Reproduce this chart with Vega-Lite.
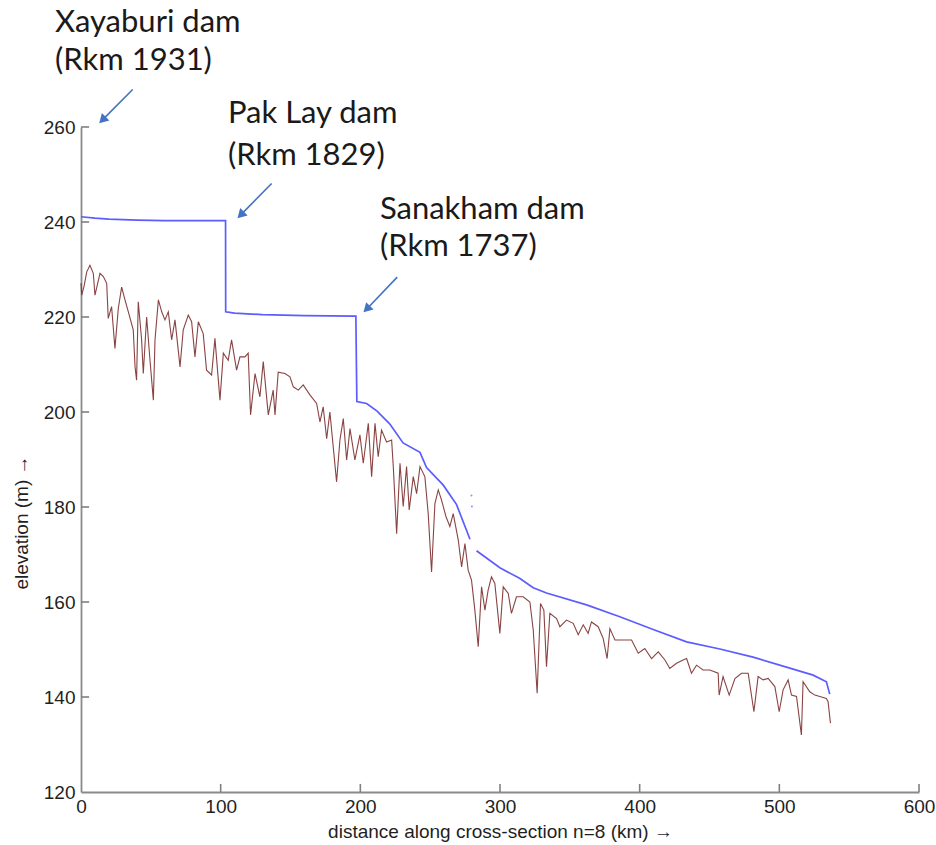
{
  "$schema": "https://vega.github.io/schema/vega-lite/v6.json",
  "width": 838,
  "height": 665,
  "autosize": {"type": "none"},
  "padding": {"left": 81, "top": 127, "right": 17, "bottom": 53},
  "background": "white",
  "config": {
    "view": {"stroke": null},
    "axis": {
      "ticks": false,
      "grid": false,
      "domainColor": "#8a8a8a",
      "domainWidth": 1.8,
      "labelFont": "Liberation Sans",
      "labelFontSize": 19,
      "labelColor": "#1f1f1f",
      "labelFlush": false,
      "titleFont": "Liberation Sans",
      "titleFontSize": 19,
      "titleFontWeight": "normal",
      "titleColor": "#1f1f1f"
    }
  },
  "datasets": {
    "bed": [
      {"km": 0, "elev": 227.1}, {"km": 0.5, "elev": 224.6}, {"km": 2.2, "elev": 226.5}, {"km": 4.1, "elev": 229.5}, {"km": 6.4, "elev": 230.9},
      {"km": 8.8, "elev": 229.2}, {"km": 10, "elev": 224.6}, {"km": 13.6, "elev": 229.2}, {"km": 16, "elev": 228.5},
      {"km": 18.4, "elev": 227.1}, {"km": 19.5, "elev": 219.7}, {"km": 21.9, "elev": 222.2}, {"km": 24.3, "elev": 213.4},
      {"km": 26.7, "elev": 221.8}, {"km": 29.1, "elev": 226.3}, {"km": 31.5, "elev": 223.6}, {"km": 33.9, "elev": 221.1},
      {"km": 37.4, "elev": 217.3}, {"km": 38.7, "elev": 209.5}, {"km": 39.8, "elev": 206.7}, {"km": 41, "elev": 223.2},
      {"km": 43.4, "elev": 215.2}, {"km": 44.6, "elev": 208.1}, {"km": 47, "elev": 220}, {"km": 49.4, "elev": 210.9},
      {"km": 51.8, "elev": 202.5}, {"km": 53, "elev": 215.2}, {"km": 55.4, "elev": 223.6}, {"km": 57.8, "elev": 221.1},
      {"km": 60.1, "elev": 219.4}, {"km": 62.5, "elev": 221.1}, {"km": 64.9, "elev": 215.2}, {"km": 67.3, "elev": 219.4},
      {"km": 70.9, "elev": 209.5}, {"km": 73.2, "elev": 217.3}, {"km": 76.8, "elev": 220.4}, {"km": 79.2, "elev": 219},
      {"km": 81.6, "elev": 211.6}, {"km": 84, "elev": 219}, {"km": 87.5, "elev": 216.5}, {"km": 89.9, "elev": 208.8},
      {"km": 93.5, "elev": 207.8}, {"km": 95.9, "elev": 215.5}, {"km": 99.5, "elev": 202.5}, {"km": 101.9, "elev": 212.4},
      {"km": 105.4, "elev": 210.9}, {"km": 107.8, "elev": 215.2}, {"km": 111.4, "elev": 208.8}, {"km": 113.8, "elev": 211.6},
      {"km": 117.4, "elev": 211.6}, {"km": 119.7, "elev": 212.4}, {"km": 121.4, "elev": 199.4}, {"km": 124.6, "elev": 208.1},
      {"km": 128.1, "elev": 203.2}, {"km": 130.5, "elev": 210.6}, {"km": 134.1, "elev": 199.4}, {"km": 137.6, "elev": 204.6},
      {"km": 138.9, "elev": 199.4}, {"km": 141.2, "elev": 208.4}, {"km": 146, "elev": 208.1}, {"km": 149.6, "elev": 207.4},
      {"km": 152, "elev": 205.3}, {"km": 155.6, "elev": 204.6}, {"km": 159.1, "elev": 205.7}, {"km": 163.9, "elev": 203.6},
      {"km": 168.7, "elev": 201.8}, {"km": 171.1, "elev": 197.9}, {"km": 173.4, "elev": 201.1}, {"km": 175.9, "elev": 194.4},
      {"km": 178.2, "elev": 200}, {"km": 183, "elev": 185.3}, {"km": 185.4, "elev": 194.1}, {"km": 187.8, "elev": 198.6},
      {"km": 190.2, "elev": 189.9}, {"km": 192.6, "elev": 196.5}, {"km": 196.1, "elev": 189.9}, {"km": 199.7, "elev": 195.2},
      {"km": 202.1, "elev": 189.2}, {"km": 205.7, "elev": 197.6}, {"km": 208.1, "elev": 186.4}, {"km": 210.5, "elev": 197.6},
      {"km": 212.8, "elev": 190.6}, {"km": 215.2, "elev": 196.2}, {"km": 218.8, "elev": 193.7}, {"km": 222.4, "elev": 194.1},
      {"km": 223.6, "elev": 188.5}, {"km": 226, "elev": 174.4}, {"km": 228.4, "elev": 189.2}, {"km": 230.7, "elev": 180.1},
      {"km": 233.1, "elev": 188.5}, {"km": 235, "elev": 179.4}, {"km": 237.9, "elev": 186.4}, {"km": 240.3, "elev": 182.8},
      {"km": 242.7, "elev": 188.5}, {"km": 246.2, "elev": 186.4}, {"km": 248.6, "elev": 178.6}, {"km": 251, "elev": 166.3},
      {"km": 253.4, "elev": 180.7}, {"km": 255.8, "elev": 183.6}, {"km": 258.1, "elev": 181.5}, {"km": 261.3, "elev": 178},
      {"km": 264.1, "elev": 175.9}, {"km": 266.5, "elev": 178.6}, {"km": 270.1, "elev": 173.1}, {"km": 272.5, "elev": 167.4},
      {"km": 274.9, "elev": 172.3}, {"km": 277.2, "elev": 166.7}, {"km": 279.6, "elev": 164.6}, {"km": 282, "elev": 158.3},
      {"km": 284.4, "elev": 150.6}, {"km": 286.8, "elev": 163.2}, {"km": 289.2, "elev": 158.3}, {"km": 291.5, "elev": 162.5},
      {"km": 293.9, "elev": 165.3}, {"km": 296.3, "elev": 163.9}, {"km": 299.9, "elev": 153.4}, {"km": 302.3, "elev": 163.2},
      {"km": 305.9, "elev": 161.8}, {"km": 308.2, "elev": 157.6}, {"km": 311.8, "elev": 161.1}, {"km": 316.6, "elev": 161.1},
      {"km": 321.4, "elev": 160}, {"km": 323.8, "elev": 154.1}, {"km": 326.6, "elev": 140.8}, {"km": 329, "elev": 159.7},
      {"km": 331.4, "elev": 158.3}, {"km": 333.3, "elev": 146.4}, {"km": 335.7, "elev": 157.6}, {"km": 340.5, "elev": 156.5},
      {"km": 342.9, "elev": 154.8}, {"km": 347.6, "elev": 156.2}, {"km": 352.4, "elev": 155.5}, {"km": 356, "elev": 153.1},
      {"km": 359.6, "elev": 155.2}, {"km": 363.1, "elev": 153.4}, {"km": 365.5, "elev": 155.8}, {"km": 370.3, "elev": 154.8},
      {"km": 373.9, "elev": 152.3}, {"km": 376.7, "elev": 148.1}, {"km": 378.7, "elev": 154.4}, {"km": 382.3, "elev": 152},
      {"km": 388.2, "elev": 152}, {"km": 394.2, "elev": 152}, {"km": 399, "elev": 149.2}, {"km": 403.7, "elev": 150.2},
      {"km": 408.5, "elev": 148.1}, {"km": 413.3, "elev": 149.5}, {"km": 418.1, "elev": 147.8}, {"km": 421.6, "elev": 146},
      {"km": 426.4, "elev": 147.1}, {"km": 431.1, "elev": 147.8}, {"km": 433.6, "elev": 148.1}, {"km": 437.1, "elev": 145},
      {"km": 440.7, "elev": 146.7}, {"km": 445.4, "elev": 145.7}, {"km": 450.2, "elev": 145.7}, {"km": 456.2, "elev": 145},
      {"km": 456.9, "elev": 140.4}, {"km": 459.7, "elev": 144.3}, {"km": 464.1, "elev": 140.4}, {"km": 468.2, "elev": 143.9},
      {"km": 472.9, "elev": 145}, {"km": 477.7, "elev": 145}, {"km": 481.8, "elev": 136.9}, {"km": 484.8, "elev": 144.3},
      {"km": 488.4, "elev": 143.6}, {"km": 492, "elev": 143.9}, {"km": 496.8, "elev": 142.2}, {"km": 499.9, "elev": 136.9},
      {"km": 502.7, "elev": 141.5}, {"km": 506.3, "elev": 143.6}, {"km": 508.7, "elev": 140.4}, {"km": 512.3, "elev": 140.1},
      {"km": 515.8, "elev": 132}, {"km": 517, "elev": 143.2}, {"km": 521.8, "elev": 141.1}, {"km": 525.4, "elev": 140.4},
      {"km": 529, "elev": 140.1}, {"km": 533.7, "elev": 139.7}, {"km": 534.9, "elev": 139}, {"km": 536.6, "elev": 134.5}
    ],
    "water": [
      {"km": 0, "elev": 241.1, "seg": "a"}, {"km": 10, "elev": 240.8, "seg": "a"}, {"km": 20, "elev": 240.6, "seg": "a"},
      {"km": 40, "elev": 240.4, "seg": "a"}, {"km": 60, "elev": 240.3, "seg": "a"}, {"km": 103.5, "elev": 240.3, "seg": "a"},
      {"km": 103.6, "elev": 221.1, "seg": "a"}, {"km": 110, "elev": 220.8, "seg": "a"}, {"km": 130, "elev": 220.5, "seg": "a"},
      {"km": 160, "elev": 220.3, "seg": "a"}, {"km": 196.8, "elev": 220.2, "seg": "a"}, {"km": 197.5, "elev": 202.2, "seg": "a"},
      {"km": 204.5, "elev": 201.8, "seg": "a"}, {"km": 212, "elev": 200.2, "seg": "a"}, {"km": 221, "elev": 197.5, "seg": "a"},
      {"km": 230.6, "elev": 193.5, "seg": "a"}, {"km": 242.7, "elev": 191.5, "seg": "a"}, {"km": 247.4, "elev": 188.3, "seg": "a"},
      {"km": 259.4, "elev": 184.6, "seg": "a"}, {"km": 268.9, "elev": 180.5, "seg": "a"}, {"km": 278.5, "elev": 173.2, "seg": "a"},
      {"km": 283.2, "elev": 170.8, "seg": "b"}, {"km": 299.9, "elev": 167.2, "seg": "b"}, {"km": 314, "elev": 165, "seg": "b"},
      {"km": 323.8, "elev": 163, "seg": "b"}, {"km": 333.3, "elev": 161.9, "seg": "b"}, {"km": 362, "elev": 159.4, "seg": "b"},
      {"km": 385.8, "elev": 156.9, "seg": "b"}, {"km": 409.7, "elev": 154.2, "seg": "b"}, {"km": 433.6, "elev": 151.6, "seg": "b"},
      {"km": 457.4, "elev": 150.1, "seg": "b"}, {"km": 481.2, "elev": 148.4, "seg": "b"}, {"km": 505.1, "elev": 146.3, "seg": "b"},
      {"km": 524.2, "elev": 144.6, "seg": "b"}, {"km": 533.7, "elev": 143.2, "seg": "b"}, {"km": 536.1, "elev": 140.6, "seg": "b"}
    ],
    "strays": [
      {"km": 279.6, "elev": 182.4}, {"km": 279.9, "elev": 180.1}
    ],
    "xticks": [
      {"km": 100}, {"km": 200}, {"km": 300}, {"km": 400}, {"km": 500}, {"km": 600}
    ],
    "yticks": [
      {"elev": 140}, {"elev": 160}, {"elev": 180}, {"elev": 200}, {"elev": 220}, {"elev": 240}, {"elev": 260}
    ],
    "arrows": [
      {"dam": "Xayaburi", "x0": 37, "y0": 267.9, "x1": 13.6, "y1": 260.9, "hx": 16.1, "hy": 261.7},
      {"dam": "Pak Lay", "x0": 136.5, "y0": 248.1, "x1": 112.6, "y1": 241.0, "hx": 115.1, "hy": 241.7},
      {"dam": "Sanakham", "x0": 226.4, "y0": 228.4, "x1": 202.8, "y1": 221.1, "hx": 205.3, "hy": 221.9}
    ],
    "labels": [
      {"text": "Xayaburi dam", "km": -18.6, "elev": 280},
      {"text": "(Rkm 1931)", "km": -18.6, "elev": 272},
      {"text": "Pak Lay dam", "km": 105.2, "elev": 260.8},
      {"text": "(Rkm 1829)", "km": 105.2, "elev": 252},
      {"text": "Sanakham dam", "km": 214, "elev": 240.6},
      {"text": "(Rkm 1737)", "km": 214, "elev": 232.8}
    ]
  },
  "layer": [
    {
      "data": {"name": "bed"},
      "mark": {"type": "line", "color": "#7d2f2f", "strokeWidth": 1.1, "opacity": 0.9},
      "encoding": {
        "x": {
          "field": "km", "type": "quantitative",
          "scale": {"domain": [0, 600], "nice": false, "zero": false},
          "axis": {
            "values": [0, 100, 200, 300, 400, 500, 600],
            "title": "distance along cross-section n=8 (km) →",
            "labelPadding": 5,
            "titlePadding": 6
          }
        },
        "y": {
          "field": "elev", "type": "quantitative",
          "scale": {"domain": [120, 260], "nice": false, "zero": false},
          "axis": {
            "values": [120, 140, 160, 180, 200, 220, 240, 260],
            "title": "elevation (m) →",
            "labelPadding": 6,
            "titleX": -50,
            "titleY": 395
          }
        }
      }
    },
    {
      "data": {"name": "xticks"},
      "mark": {"type": "rule", "color": "#808080", "strokeWidth": 1.6},
      "encoding": {
        "x": {"field": "km", "type": "quantitative"},
        "y": {"datum": 120},
        "y2": {"datum": 121.7}
      }
    },
    {
      "data": {"name": "yticks"},
      "mark": {"type": "rule", "color": "#808080", "strokeWidth": 1.6},
      "encoding": {
        "y": {"field": "elev", "type": "quantitative"},
        "x": {"datum": 0},
        "x2": {"datum": 5.8}
      }
    },
    {
      "data": {"name": "water"},
      "mark": {"type": "line", "color": "#5c5cff", "strokeWidth": 1.7},
      "encoding": {
        "x": {"field": "km", "type": "quantitative"},
        "y": {"field": "elev", "type": "quantitative"},
        "detail": {"field": "seg"}
      }
    },
    {
      "data": {"name": "strays"},
      "mark": {"type": "point", "filled": true, "color": "#5c5cff", "size": 4, "opacity": 0.7},
      "encoding": {
        "x": {"field": "km", "type": "quantitative"},
        "y": {"field": "elev", "type": "quantitative"}
      }
    },
    {
      "data": {"name": "arrows"},
      "mark": {"type": "rule", "color": "#4472c4", "strokeWidth": 1.6},
      "encoding": {
        "x": {"field": "x0", "type": "quantitative"},
        "y": {"field": "y0", "type": "quantitative"},
        "x2": {"field": "hx"},
        "y2": {"field": "hy"}
      }
    },
    {
      "data": {"name": "arrows"},
      "mark": {"type": "point", "shape": "triangle", "filled": true, "color": "#4472c4", "opacity": 1, "size": 110, "angle": 225},
      "encoding": {
        "x": {"field": "hx", "type": "quantitative"},
        "y": {"field": "hy", "type": "quantitative"}
      }
    },
    {
      "data": {"name": "labels"},
      "mark": {"type": "text", "align": "left", "baseline": "alphabetic", "font": "Lato", "fontSize": 31, "color": "#1a1a1a"},
      "encoding": {
        "x": {"field": "km", "type": "quantitative"},
        "y": {"field": "elev", "type": "quantitative"},
        "text": {"field": "text"}
      }
    }
  ]
}
